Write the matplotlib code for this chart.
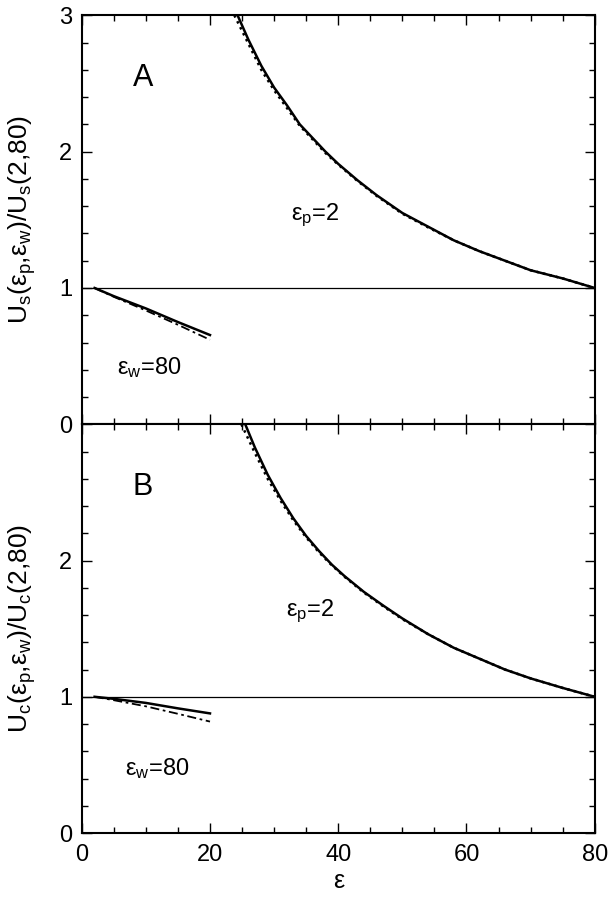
import matplotlib
matplotlib.use("Agg")
import matplotlib.pyplot as plt
from matplotlib.ticker import MultipleLocator

plt.rcParams['font.family'] = ['Liberation Sans', 'DejaVu Sans']
plt.rcParams['mathtext.fontset'] = 'custom'
plt.rcParams['mathtext.rm'] = 'Liberation Sans'
plt.rcParams['mathtext.it'] = 'Liberation Sans'

# Panel A: varying eps_w with eps_p = 2 (solid) and its dotted companion
eps_A_curve = [24.3, 26, 28, 30, 32, 34, 36, 38, 40, 43, 46, 50, 54, 58, 62, 66, 70, 75, 80]
val_A_curve = [3.00, 2.82, 2.63, 2.47, 2.34, 2.20, 2.10, 2.00, 1.91, 1.79, 1.68, 1.55, 1.45, 1.35, 1.27, 1.20, 1.13, 1.07, 1.00]
eps_A_dot = [23.8, 26, 28, 30, 32, 34, 36, 38, 40, 43, 46, 50, 54, 58, 62, 66, 70, 75, 80]
val_A_dot = [3.00, 2.79, 2.60, 2.45, 2.32, 2.19, 2.09, 1.99, 1.905, 1.785, 1.675, 1.545, 1.445, 1.35, 1.27, 1.20, 1.13, 1.07, 1.00]
# Panel A: varying eps_p with eps_w = 80
eps_A_short = [2, 5, 10, 15, 20]
val_A_short = [1.00, 0.94, 0.85, 0.75, 0.655]
val_A_short_dd = [1.00, 0.935, 0.835, 0.73, 0.62]

# Panel B
eps_B_curve = [25.5, 27, 29, 31, 33, 35, 37, 39, 41, 44, 47, 50, 54, 58, 62, 66, 70, 75, 80]
val_B_curve = [3.00, 2.83, 2.63, 2.46, 2.31, 2.18, 2.07, 1.97, 1.885, 1.77, 1.67, 1.575, 1.46, 1.36, 1.28, 1.20, 1.135, 1.065, 1.00]
eps_B_dot = [24.9, 27, 29, 31, 33, 35, 37, 39, 41, 44, 47, 50, 54, 58, 62, 66, 70, 75, 80]
val_B_dot = [3.00, 2.79, 2.60, 2.44, 2.295, 2.17, 2.06, 1.965, 1.88, 1.765, 1.665, 1.57, 1.46, 1.36, 1.28, 1.20, 1.135, 1.065, 1.00]
eps_B_short = [2, 5, 10, 15, 20]
val_B_short = [1.00, 0.985, 0.955, 0.915, 0.878]
val_B_short_dd = [1.00, 0.975, 0.93, 0.875, 0.818]

x_ticks = [0, 20, 40, 60, 80]

fig = plt.figure(figsize=(6.1, 8.99), dpi=100)
axA = fig.add_axes([0.134, 0.528, 0.841, 0.455])
axB = fig.add_axes([0.134, 0.0734, 0.841, 0.4546])

def style(ax):
    ax.set_xlim(0, 80)
    ax.set_ylim(0, 3)
    ax.xaxis.set_major_locator(MultipleLocator(20))
    ax.xaxis.set_minor_locator(MultipleLocator(5))
    ax.yaxis.set_major_locator(MultipleLocator(1))
    ax.yaxis.set_minor_locator(MultipleLocator(0.2))
    ax.tick_params(which='both', direction='in', top=True, right=True, labelsize=17, width=1.0)
    ax.tick_params(which='major', length=7)
    ax.tick_params(which='minor', length=4)
    ax.tick_params(axis='x', which='major', pad=8)
    ax.tick_params(axis='y', which='major', pad=7)
    for s in ax.spines.values():
        s.set_linewidth(1.5)
    ax.axhline(1.0, color='black', lw=0.9)

for ax in (axA, axB):
    style(ax)

axA.plot(eps_A_curve, val_A_curve, '-', color='black', lw=1.8)
axA.plot(eps_A_dot, val_A_dot, ':', color='black', lw=1.8)
axA.plot(eps_A_short, val_A_short, '-', color='black', lw=1.8)
axA.plot(eps_A_short, val_A_short_dd, '-.', color='black', lw=1.3, dashes=(5, 2, 1.5, 2))

axB.plot(eps_B_curve, val_B_curve, '-', color='black', lw=1.8)
axB.plot(eps_B_dot, val_B_dot, ':', color='black', lw=1.8)
axB.plot(eps_B_short, val_B_short, '-', color='black', lw=1.8)
axB.plot(eps_B_short, val_B_short_dd, '-.', color='black', lw=1.3, dashes=(5, 2, 1.5, 2))

axA.tick_params(labelbottom=False)
axA.set_yticks([0, 1, 2, 3])
axB.set_yticks([0, 1, 2, 3])
axB.set_yticklabels(['0', '1', '2', ''])
axB.set_xticks(x_ticks)
axB.set_xticklabels([str(v) for v in x_ticks])
axB.set_xlabel('ε', fontsize=18, labelpad=2)

axA.set_ylabel(r'U$_\mathregular{s}$(ε$_\mathregular{p}$,ε$_\mathregular{w}$)/U$_\mathregular{s}$(2,80)', fontsize=19)
axB.set_ylabel(r'U$_\mathregular{c}$(ε$_\mathregular{p}$,ε$_\mathregular{w}$)/U$_\mathregular{c}$(2,80)', fontsize=19)
axA.yaxis.set_label_coords(-0.085, 0.5)
axB.yaxis.set_label_coords(-0.085, 0.5)

axA.text(9.5, 2.54, 'A', fontsize=22, ha='center', va='center')
axB.text(9.5, 2.54, 'B', fontsize=22, ha='center', va='center')
axA.text(36.4, 1.53, r'ε$_\mathregular{p}$=2', fontsize=17, ha='center', va='center')
axB.text(35.6, 1.63, r'ε$_\mathregular{p}$=2', fontsize=17, ha='center', va='center')
axA.text(10.6, 0.42, r'ε$_\mathregular{w}$=80', fontsize=17, ha='center', va='center')
axB.text(11.7, 0.47, r'ε$_\mathregular{w}$=80', fontsize=17, ha='center', va='center')

fig.savefig('out.png', dpi=100)
